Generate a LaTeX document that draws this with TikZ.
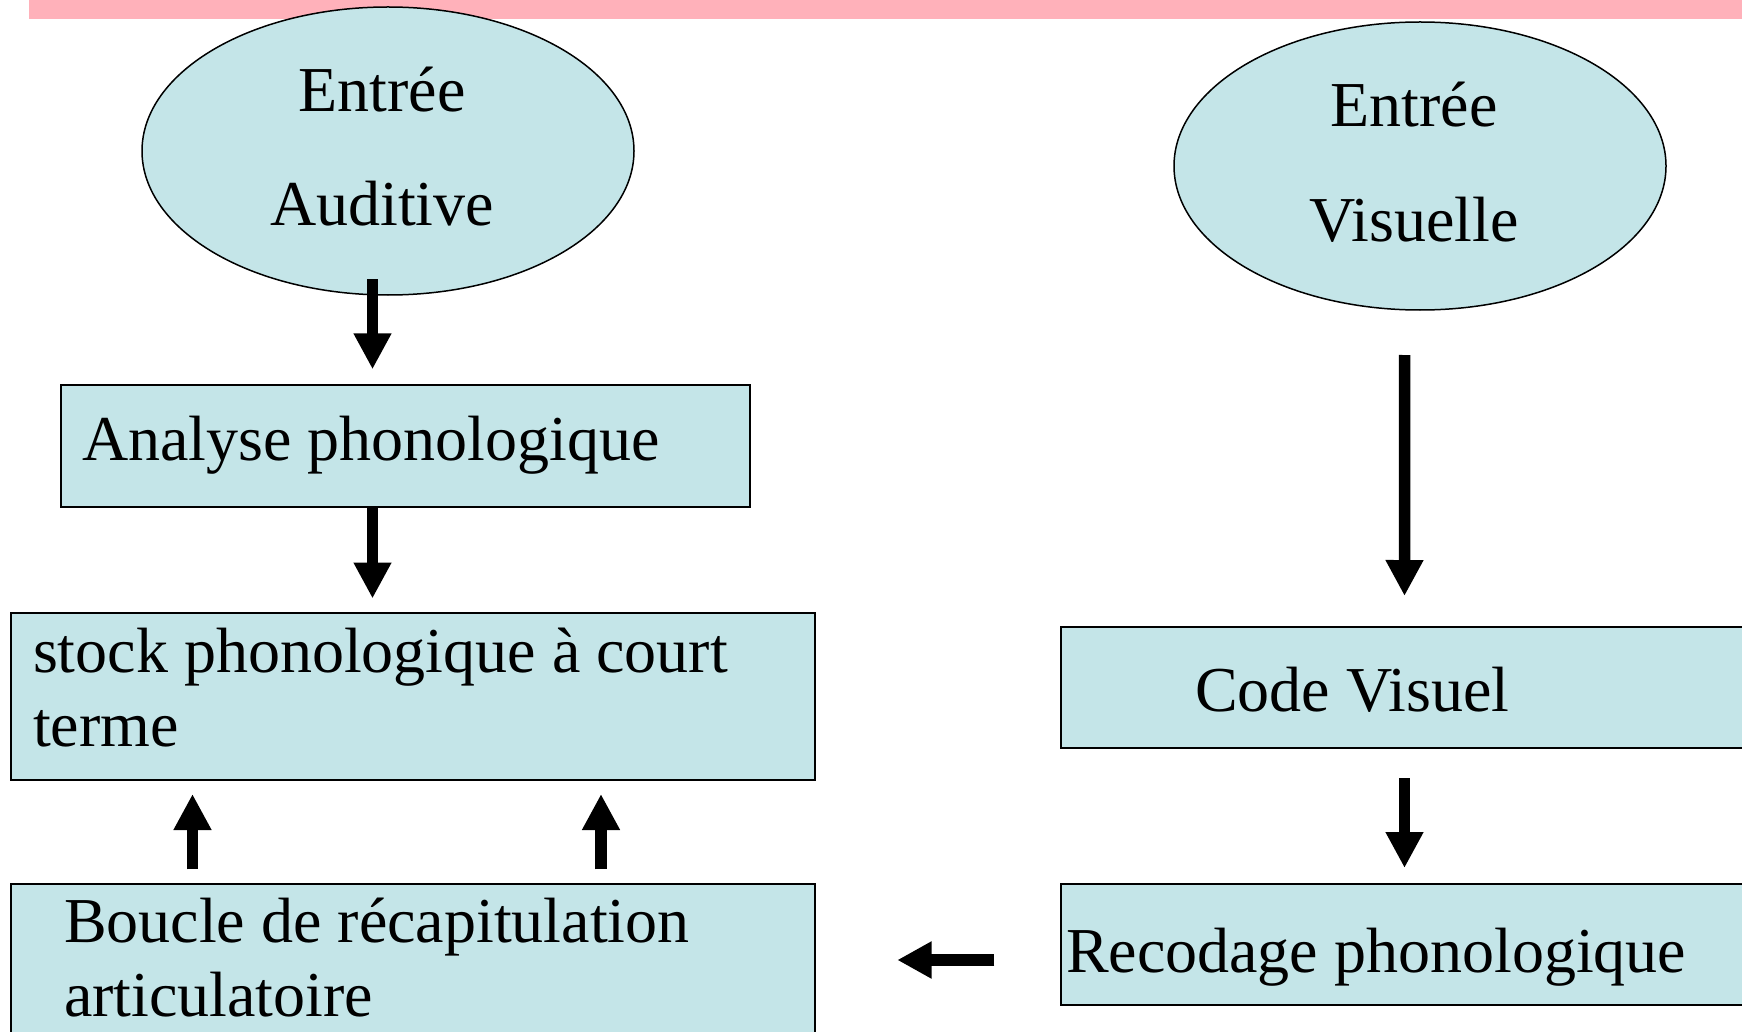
\documentclass[tikz,border=0pt]{standalone}
\usepackage{fontspec}
\setmainfont{Liberation Serif}
\usetikzlibrary{arrows.meta,shapes.geometric}
\definecolor{boxfill}{RGB}{196,229,232}
\definecolor{bandpink}{RGB}{255,177,186}
% #1 width, #2 height above first baseline, #3 depth, #4 left offset, #5 lines
\newcommand\boxtext[5]{\raisebox{0pt}[#2][#3]{\makebox[#1][l]{\hspace*{#4}\begin{tabular}[t]{@{}l@{}}#5\end{tabular}}}}
\newcommand\elltext[3]{\raisebox{0pt}[40pt][118.6pt]{\begin{tabular}[t]{@{}c@{}}#1\\[#3]#2\end{tabular}\hspace*{12pt}}}
\begin{document}
\begin{tikzpicture}[x=1pt,y=-1pt,
  every node/.style={font=\fontsize{64}{74}\selectfont, inner sep=0pt, outer sep=0pt},
  box/.style={draw=black, line width=1.5pt, fill=boxfill, rectangle},
  ell/.style={draw=black, line width=1.5pt, fill=boxfill, ellipse, minimum width=492pt, minimum height=288pt},
  arr/.style={line width=11.5pt, -{Triangle[width=35.5pt,length=36pt]}},
  arrl/.style={line width=12.4pt, -{Triangle[width=35pt,length=34.4pt]}}
  ]
\useasboundingbox (0,0) rectangle (1742,1032);
\fill[bandpink] (29,0) rectangle (1742,19);

\node[ell] (aud) at (388,151) {\elltext{Entrée}{Auditive}{39.5pt}};
\node[ell] (vis) at (1420,166) {\elltext{Entrée}{Visuelle}{40.5pt}};

\node[box] (ana) at (405.5,446) {\boxtext{689pt}{75pt}{47pt}{21pt}{Analyse phonologique}};
\node[box] (stock) at (413,696.5) {\boxtext{804pt}{59pt}{108pt}{22pt}{stock phonologique à court\\terme}};
\node[box] (boucle) at (413,972) {\boxtext{804pt}{58pt}{118pt}{53pt}{Boucle de récapitulation\\articulatoire}};
\node[box] (code) at (1430.5,687.5) {\boxtext{739pt}{84.5pt}{36.5pt}{134pt}{Code Visuel}};
\node[box] (recod) at (1430.5,944.5) {\boxtext{739pt}{88pt}{33pt}{5pt}{Recodage phonologique}};

\draw[arr] ([xshift=-15.5pt,yshift=15.7pt]aud.south) -- ([xshift=-33pt,yshift=15.7pt]ana.north);
\draw[arr] ([xshift=-33pt]ana.south) -- ([xshift=-40.5pt,yshift=14.5pt]stock.north);
\draw[arr] ([xshift=-15.4pt,yshift=-45pt]vis.south) -- ([xshift=-26pt,yshift=31pt]code.north);
\draw[arr] ([xshift=-26pt,yshift=-30pt]code.south) -- ([xshift=-26pt,yshift=16pt]recod.north);
\draw[arr] ([xshift=-220.5pt,yshift=14.7pt]boucle.north) -- ([xshift=-220.5pt,yshift=-14pt]stock.south);
\draw[arr] ([xshift=188pt,yshift=14.7pt]boucle.north) -- ([xshift=188pt,yshift=-14pt]stock.south);
\draw[arrl] ([xshift=-66.7pt,yshift=-15.5pt]recod.west) -- ([xshift=82.3pt,yshift=12pt]boucle.east);
\end{tikzpicture}
\end{document}
